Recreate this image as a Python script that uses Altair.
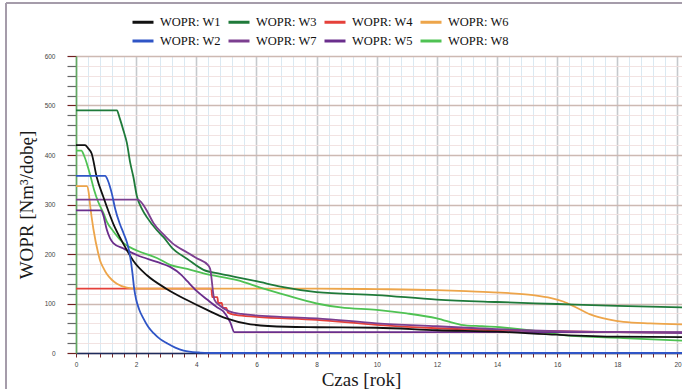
import altair as alt
import pandas as pd

# Well oil production rate (WOPR, Nm3/day) over time (years), eight wells

series_names = ["WOPR: W1", "WOPR: W3", "WOPR: W4", "WOPR: W6",
                "WOPR: W2", "WOPR: W7", "WOPR: W5", "WOPR: W8"]
series_colors = ["#111111", "#1f7a3a", "#e5403a", "#eda54a",
                 "#2f55c6", "#7c3f90", "#6a2e8c", "#4fc253"]

w1_t = [0, 0.3, 0.4, 0.52, 0.69, 0.91, 1.24, 1.58, 1.91, 2.36, 3.0, 3.69, 4.36, 5.0,
        5.8, 7.0, 8.0, 10.0, 12.0, 14.0, 16.0, 18.0, 20.15]
w1_q = [420, 420, 414, 403, 355, 315, 261, 220, 186, 157, 130, 107, 87, 70,
        58, 53, 52, 51, 46, 43, 37, 33, 32]

w2_t = [0, 0.97, 1.05, 1.13, 1.2, 1.3, 1.45, 1.58, 1.7, 1.8, 1.88, 1.93, 2.0, 2.1,
        2.24, 2.4, 2.58, 2.8, 3.02, 3.3, 3.58, 4.1, 4.4, 20.15]
w2_q = [358, 358, 350, 336, 320, 292, 262, 242, 222, 195, 160, 132, 108, 88,
        70, 53, 40, 28, 20, 11, 5, 1, 0, 0]

w3_t = [0, 1.36, 1.45, 1.58, 1.69, 1.8, 1.91, 2.02, 2.2, 2.36, 2.69, 2.91, 3.2, 3.7,
        4.24, 4.8, 5.36, 6.0, 6.8, 8.0, 10.0, 12.0, 14.0, 16.0, 18.0, 20.15]
w3_q = [490, 490, 475, 449, 425, 385, 355, 318, 290, 274, 248, 234, 212, 190,
        168, 160, 153, 145, 134, 123, 117, 108, 103, 99, 95, 92]

w4_t = [0, 4.5, 4.53, 4.7, 4.73, 4.85, 4.88, 5.0, 5.05, 5.3, 6.0, 8.0, 10.0, 12.0,
        14.0, 16.0, 18.0, 20.15]
w4_q = [130, 130, 113, 113, 101, 101, 91, 91, 82, 77, 73, 67, 57, 50,
        46, 44, 42, 41]

w5_t = [0, 0.83, 0.9, 1.02, 1.13, 1.24, 1.58, 2.02, 2.69, 3.13, 3.5, 3.7, 4.0, 4.36,
        4.7, 4.9, 5.13, 5.27, 20.15]
w5_q = [288, 288, 280, 250, 232, 222, 211, 198, 184, 174, 158, 145, 126, 108,
        92, 84, 62, 42, 42]

w6_t = [0, 0.36, 0.42, 0.47, 0.58, 0.74, 0.8, 0.91, 1.02, 1.19, 1.36, 1.69, 2.0, 4.0,
        6.0, 8.0, 10.0, 12.0, 13.3, 14.1, 15.2, 15.8, 16.2, 16.6, 17.1, 17.7, 18.2,
        19.1, 20.15]
w6_q = [337, 337, 325, 298, 250, 201, 187, 172, 160, 148, 140, 132, 130, 130,
        130, 130, 129, 127, 124, 122, 117, 111, 104, 93, 78, 68, 63,
        60, 58]

w7_t = [0, 2.05, 2.15, 2.25, 2.36, 2.58, 2.9, 3.2, 3.7, 4.0, 4.4, 4.46, 4.6, 4.8,
        5.1, 5.5, 6.8, 8.0, 10.0, 12.0, 14.0, 16.0, 18.0, 20.15]
w7_q = [310, 310, 306, 298, 287, 262, 240, 222, 203, 192, 177, 170, 108, 95,
        84, 79, 73, 70, 60, 54, 48, 44, 42, 40]

w8_t = [0, 0.18, 0.26, 0.36, 0.47, 0.6, 0.74, 0.91, 1.02, 1.24, 1.58, 2.02, 2.69, 3.13,
        3.7, 4.24, 5.36, 6.24, 6.8, 8.0, 8.8, 10.0, 11.0, 12.0, 12.8, 13.5, 14.1,
        15.2, 16.2, 18.2, 20.15]
w8_q = [409, 409, 400, 383, 360, 330, 305, 283, 266, 246, 222, 207, 192, 178,
        170, 161, 147, 130, 120, 100, 92, 87, 80, 70, 57, 54, 52,
        45, 36, 30, 25]

# axis ticks: every 0.4 year on x, every 20 units on y
x_ticks = [round(i * 0.4, 1) for i in range(51)]
y_ticks = [i * 20 for i in range(31)]

series_data = {
    "WOPR: W1": (w1_t, w1_q), "WOPR: W2": (w2_t, w2_q),
    "WOPR: W3": (w3_t, w3_q), "WOPR: W4": (w4_t, w4_q),
    "WOPR: W5": (w5_t, w5_q), "WOPR: W6": (w6_t, w6_q),
    "WOPR: W7": (w7_t, w7_q), "WOPR: W8": (w8_t, w8_q),
}
draw_order = ["WOPR: W4", "WOPR: W6", "WOPR: W3", "WOPR: W8",
              "WOPR: W5", "WOPR: W7", "WOPR: W1", "WOPR: W2"]

rows = []
for order, name in enumerate(draw_order):
    ts, qs = series_data[name]
    for t, q in zip(ts, qs):
        rows.append({"well": name, "t": t, "q": q, "o": order})
df = pd.DataFrame(rows)

major_x = "abs(datum.value - 2 * round(datum.value / 2)) < 0.01"
major_y = "datum.value % 100 === 0"

x_axis = alt.Axis(
    values=x_ticks,
    labelExpr=f"{major_x} ? format(datum.value, 'd') : ''",
    labelFlush=False, labelOverlap=False,
    labelFont="Liberation Sans", labelFontSize=6.5, labelColor="#444",
    labelPadding=4,
    grid=True,
    gridColor={"condition": {"test": major_x, "value": "#c6c9cc"}, "value": "#d6e7f0"},
    gridWidth={"condition": {"test": major_x, "value": 1.6}, "value": 0.9},
    tickColor="#7a2a2a", tickSize=4, tickWidth=1,
    domainColor="#1d2b5c", domainWidth=1.6,
    title="Czas [rok]", titleFont="Liberation Serif", titleFontSize=19,
    titleFontWeight="normal", titleColor="#1a1a1a",
    titleX=285, titleY=32, titleBaseline="alphabetic", titleAlign="center",
)

y_axis = alt.Axis(
    values=y_ticks,
    labelExpr=f"{major_y} ? datum.label : ''",
    labelFlush=False, labelOverlap=False,
    labelFont="Liberation Sans", labelFontSize=6.5, labelColor="#444",
    labelPadding=12,
    grid=True,
    gridColor={"condition": {"test": major_y, "value": "#cdb9b2"}, "value": "#f1e0df"},
    gridWidth={"condition": {"test": major_y, "value": 1.4}, "value": 0.9},
    tickColor={"condition": {"test": major_y, "value": "#6e1f1f"}, "value": "#666666"},
    tickSize=9, tickWidth=1.2,
    domainColor="#62a862", domainWidth=1.6,
    title="WOPR [Nm³/dobę]", titleFont="Liberation Serif", titleFontSize=19,
    titleFontWeight="normal", titleColor="#1a1a1a",
    titleX=-50, titleY=148.5, titleAngle=270, titleAlign="center",
    titleBaseline="middle",
)

lines = alt.Chart(df).mark_line(strokeWidth=1.8, interpolate="monotone").encode(
    x=alt.X("t:Q", scale=alt.Scale(domain=[0, 20.15], nice=False, zero=False), axis=x_axis),
    y=alt.Y("q:Q", scale=alt.Scale(domain=[0, 600], nice=False), axis=y_axis),
    color=alt.Color(
        "well:N",
        scale=alt.Scale(domain=series_names, range=series_colors),
        legend=alt.Legend(
            title=None, orient="none", legendX=55, legendY=-46, columns=4,
            direction="horizontal",
            labelFont="Liberation Serif", labelFontSize=12.5, labelColor="#111",
            symbolType="stroke", symbolStrokeWidth=3, symbolSize=441,
            labelOffset=5, columnPadding=1, rowPadding=0, gridAlign="all",
        ),
    ),
    detail="well:N",
    order=alt.Order("o:Q"),
)

# outer frame of the figure
frame = pd.DataFrame({"k": [0]})
frame_left = alt.Chart(frame).mark_rule(color="#a59caa", strokeWidth=2).encode(
    x=alt.value(-70), y=alt.value(-53), y2=alt.value(340))
frame_top = alt.Chart(frame).mark_rule(color="#a59caa", strokeWidth=2).encode(
    x=alt.value(-70), x2=alt.value(620), y=alt.value(-53))

chart = alt.layer(lines, frame_left, frame_top).properties(
    width=606, height=297,
    autosize=alt.AutoSizeParams(type="none"),
    padding={"left": 76, "top": 56, "right": 0, "bottom": 36},
    background="white",
).configure_view(strokeWidth=0)

chart.save("out.html", embed_options={"renderer": "svg", "actions": False})
